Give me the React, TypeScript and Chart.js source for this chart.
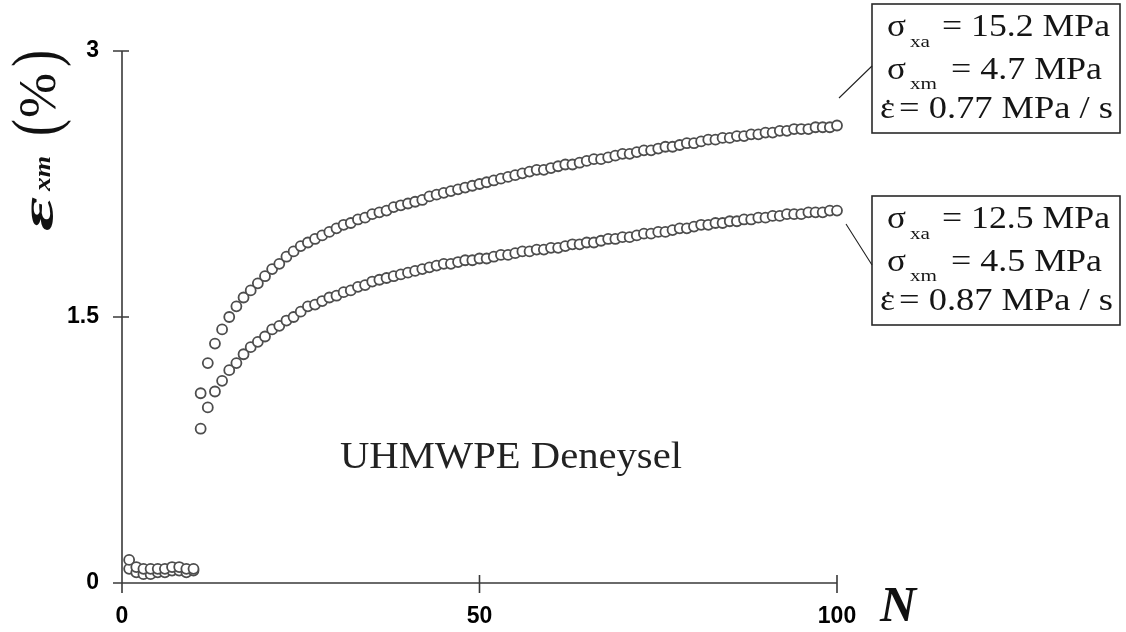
import React, { useEffect, useRef } from 'react';
import { Chart, registerables } from 'chart.js';

Chart.register(...registerables);

// ---- data ----
const cycles = [
  1, 2, 3, 4, 5, 6, 7, 8, 9, 10,
  11, 12, 13, 14, 15, 16, 17, 18, 19, 20,
  21, 22, 23, 24, 25, 26, 27, 28, 29, 30,
  31, 32, 33, 34, 35, 36, 37, 38, 39, 40,
  41, 42, 43, 44, 45, 46, 47, 48, 49, 50,
  51, 52, 53, 54, 55, 56, 57, 58, 59, 60,
  61, 62, 63, 64, 65, 66, 67, 68, 69, 70,
  71, 72, 73, 74, 75, 76, 77, 78, 79, 80,
  81, 82, 83, 84, 85, 86, 87, 88, 89, 90,
  91, 92, 93, 94, 95, 96, 97, 98, 99, 100,
];

// sigma_xa = 15.2 MPa
const strain152 = [
  0.13, 0.09, 0.08, 0.08, 0.08, 0.08, 0.09, 0.09, 0.08, 0.08,
  1.07, 1.24, 1.35, 1.43, 1.50, 1.56, 1.61, 1.65, 1.69, 1.73,
  1.77, 1.80, 1.84, 1.87, 1.90, 1.92, 1.94, 1.96, 1.98, 2.00,
  2.02, 2.03, 2.05, 2.06, 2.08, 2.09, 2.10, 2.12, 2.13, 2.14,
  2.15, 2.16, 2.18, 2.19, 2.20, 2.21, 2.22, 2.23, 2.24, 2.25,
  2.26, 2.27, 2.28, 2.29, 2.30, 2.31, 2.32, 2.33, 2.33, 2.34,
  2.35, 2.36, 2.36, 2.37, 2.38, 2.39, 2.39, 2.40, 2.41, 2.42,
  2.42, 2.43, 2.44, 2.44, 2.45, 2.46, 2.46, 2.47, 2.48, 2.48,
  2.49, 2.50, 2.50, 2.51, 2.51, 2.52, 2.52, 2.53, 2.53, 2.54,
  2.54, 2.55, 2.55, 2.56, 2.56, 2.56, 2.57, 2.57, 2.57, 2.58,
];

// sigma_xa = 12.5 MPa
const strain125 = [
  0.08, 0.06, 0.05, 0.05, 0.06, 0.06, 0.07, 0.07, 0.06, 0.07,
  0.87, 0.99, 1.08, 1.14, 1.20, 1.24, 1.29, 1.33, 1.36, 1.39,
  1.43, 1.45, 1.48, 1.50, 1.53, 1.56, 1.57, 1.59, 1.61, 1.62,
  1.64, 1.65, 1.67, 1.68, 1.70, 1.71, 1.72, 1.73, 1.74, 1.75,
  1.76, 1.77, 1.78, 1.79, 1.80, 1.80, 1.81, 1.82, 1.82, 1.83,
  1.83, 1.84, 1.85, 1.85, 1.86, 1.87, 1.87, 1.88, 1.88, 1.89,
  1.89, 1.90, 1.91, 1.91, 1.92, 1.92, 1.93, 1.94, 1.94, 1.95,
  1.95, 1.96, 1.97, 1.97, 1.98, 1.98, 1.99, 2.00, 2.00, 2.01,
  2.02, 2.02, 2.03, 2.03, 2.04, 2.04, 2.05, 2.05, 2.06, 2.06,
  2.07, 2.07, 2.08, 2.08, 2.08, 2.09, 2.09, 2.09, 2.10, 2.10,
];

const xTicks = [0, 50, 100];
const yTicks = [0, 1.5, 3];

const box152 = ['σ', 'xa', '= 15.2 MPa', 'σ', 'xm', '= 4.7 MPa', 'ε', '= 0.77 MPa / s'];
const box125 = ['σ', 'xa', '= 12.5 MPa', 'σ', 'xm', '= 4.5 MPa', 'ε', '= 0.87 MPa / s'];
const dotAbove = '˙';
const noteText = 'UHMWPE Deneysel';
const xTitle = 'N';
const yTitleParts = ['ε', 'xm', '(', '%', ')'];

const SERIF = '"Liberation Serif", "Times New Roman", serif';
const SANS = '"Liberation Sans", Arial, sans-serif';

function drawText(ctx: CanvasRenderingContext2D, s: string, x: number, y: number, font: string, width?: number, color = '#151515') {
  ctx.save();
  ctx.font = font;
  ctx.fillStyle = color;
  ctx.textAlign = 'left';
  ctx.textBaseline = 'alphabetic';
  const w = ctx.measureText(s).width;
  ctx.translate(x, y);
  if (width && w > 0) ctx.scale(width / w, 1);
  ctx.fillText(s, 0, 0);
  ctx.restore();
}

function drawRot(ctx: CanvasRenderingContext2D, s: string, xBase: number, yStart: number, font: string, width?: number) {
  ctx.save();
  ctx.font = font;
  ctx.fillStyle = '#111';
  ctx.textAlign = 'left';
  ctx.textBaseline = 'alphabetic';
  const w = ctx.measureText(s).width;
  ctx.translate(xBase, yStart);
  ctx.rotate(-Math.PI / 2);
  if (width && w > 0) ctx.scale(width / w, 1);
  ctx.fillText(s, 0, 0);
  ctx.restore();
}

function drawBox(ctx: CanvasRenderingContext2D, lines: string[], top: number) {
  ctx.save();
  ctx.strokeStyle = '#2a2a2a';
  ctx.lineWidth = 1.6;
  ctx.strokeRect(872, top, 248, 129);
  ctx.restore();
  const f = `31px ${SERIF}`;
  const fs = `17px ${SERIF}`;
  drawText(ctx, lines[0], 887, top + 32, f, 19);
  drawText(ctx, lines[1], 910, top + 43, fs, 20);
  drawText(ctx, lines[2], 942, top + 32, f, 168);
  drawText(ctx, lines[3], 887, top + 75, f, 19);
  drawText(ctx, lines[4], 910, top + 85, fs, 27);
  drawText(ctx, lines[5], 951, top + 75, f, 151);
  drawText(ctx, lines[6], 880, top + 114, f, 15);
  drawText(ctx, dotAbove, 883, top + 117, f, 10);
  drawText(ctx, lines[7], 899, top + 114, f, 214);
}

const overlayPlugin = {
  id: 'overlay',
  beforeDatasetsDraw(chart: any) {
    const ctx: CanvasRenderingContext2D = chart.ctx;
    const xs = chart.scales.x;
    const ys = chart.scales.y;
    const px0 = xs.getPixelForValue(0);
    const py0 = ys.getPixelForValue(0);
    const pxMax = xs.getPixelForValue(100);
    const pyMax = ys.getPixelForValue(3);
    ctx.save();
    ctx.strokeStyle = '#3a3a3a';
    ctx.lineWidth = 1.6;
    ctx.beginPath();
    ctx.moveTo(px0, pyMax);
    ctx.lineTo(px0, py0 + 10);
    ctx.moveTo(px0 - 9, py0);
    ctx.lineTo(pxMax, py0);
    for (const v of yTicks) {
      const p = ys.getPixelForValue(v);
      ctx.moveTo(px0 - 9, p);
      ctx.lineTo(px0 + 7, p);
    }
    for (const v of xTicks) {
      const p = xs.getPixelForValue(v);
      ctx.moveTo(p, py0 - 8);
      ctx.lineTo(p, py0 + 10);
    }
    ctx.stroke();
    ctx.restore();
  },
  afterDraw(chart: any) {
    const ctx: CanvasRenderingContext2D = chart.ctx;
    drawBox(ctx, box152, 4);
    drawBox(ctx, box125, 196);
    ctx.save();
    ctx.strokeStyle = '#222';
    ctx.lineWidth = 1.1;
    ctx.beginPath();
    ctx.moveTo(839, 98);
    ctx.lineTo(872, 66);
    ctx.moveTo(846, 224);
    ctx.lineTo(872, 265);
    ctx.stroke();
    ctx.restore();
    drawText(ctx, noteText, 340, 468, `38px ${SERIF}`, 342, '#222');
    drawText(ctx, xTitle, 880, 621, `bold italic 50px ${SERIF}`, undefined, '#111');
    drawRot(ctx, yTitleParts[0], 53, 231, `bold italic 46px ${SERIF}`, 34);
    drawRot(ctx, yTitleParts[1], 50, 191, `bold italic 24px ${SERIF}`, 35);
    drawRot(ctx, yTitleParts[2], 57, 136, `66px ${SERIF}`, 17);
    drawRot(ctx, yTitleParts[3], 55, 118, `52px ${SERIF}`, 45);
    drawRot(ctx, yTitleParts[4], 57, 67, `66px ${SERIF}`, 17);
  },
};

export default function App() {
  const canvasRef = useRef<HTMLCanvasElement | null>(null);

  useEffect(() => {
    if (!canvasRef.current) return;
    const pointStyle = {
      showLine: false,
      pointRadius: 5,
      pointBorderWidth: 1.8,
      pointBorderColor: '#4d4d4d',
      pointBackgroundColor: '#ffffff',
      pointHoverRadius: 5,
      clip: false as any,
    };
    const chart = new Chart(canvasRef.current, {
      type: 'scatter',
      data: {
        datasets: [
          { label: 'σxa = 15.2 MPa', data: cycles.map((n, i) => ({ x: n, y: strain152[i] })), ...pointStyle },
          { label: 'σxa = 12.5 MPa', data: cycles.map((n, i) => ({ x: n, y: strain125[i] })), ...pointStyle },
        ],
      },
      options: {
        animation: false,
        responsive: true,
        maintainAspectRatio: false,
        layout: { padding: { left: 0, top: 51, right: 289, bottom: 0 } },
        plugins: { legend: { display: false }, tooltip: { enabled: false } },
        scales: {
          x: {
            type: 'linear',
            min: 0,
            max: 100,
            afterFit: (s: any) => { s.height = 49; },
            afterBuildTicks: (s: any) => { s.ticks = xTicks.map((v) => ({ value: v })); },
            grid: { display: false, drawTicks: false },
            border: { display: false },
            ticks: {
              padding: 20,
              maxRotation: 0,
              color: '#000',
              font: { family: SANS, size: 23, weight: 'bold' },
            },
          },
          y: {
            type: 'linear',
            min: 0,
            max: 3,
            afterFit: (s: any) => { s.width = 122; },
            afterBuildTicks: (s: any) => { s.ticks = yTicks.map((v) => ({ value: v })); },
            grid: { display: false, drawTicks: false },
            border: { display: false },
            ticks: {
              padding: 23,
              color: '#000',
              font: { family: SANS, size: 23, weight: 'bold' },
            },
          },
        },
      } as any,
      plugins: [overlayPlugin],
    });
    return () => chart.destroy();
  }, []);

  return (
    <div style={{ position: 'absolute', left: 0, top: 0, width: 1126, height: 632, background: '#fff' }}>
      <canvas ref={canvasRef} />
    </div>
  );
}
